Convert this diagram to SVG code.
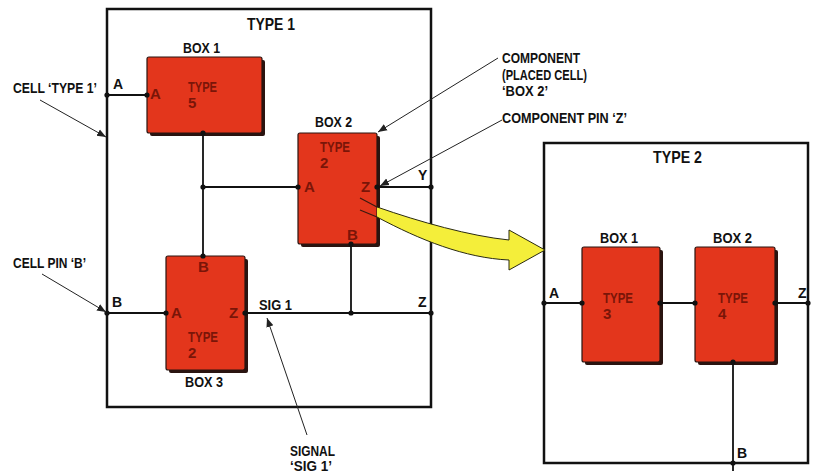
<svg xmlns="http://www.w3.org/2000/svg" width="816" height="475" viewBox="0 0 816 475">
<defs>
<style>
.frame{fill:none;stroke:#111;stroke-width:2.5}
.box{fill:#e3361c;stroke:#2a1410;stroke-width:1.2}
.shadow{fill:#2a1410}
.wire{stroke:#111;stroke-width:1.8;fill:none}
.lead{stroke:#222;stroke-width:1;fill:none;marker-end:url(#ah)}
.dot{fill:#111}
text{font-family:"Liberation Sans",Arial,sans-serif;font-weight:bold;fill:#111}
.lbl{font-size:14px}
.ttl{font-size:17px}
.in{font-size:15px;fill:#7a1508}
</style>
<marker id="ah" viewBox="0 0 10 10" refX="10" refY="5" markerWidth="9" markerHeight="9" orient="auto" markerUnits="userSpaceOnUse">
<path d="M0,1 L10,5 L0,9 z" fill="#222"/>
</marker>
</defs>
<rect width="816" height="475" fill="#fff"/>

<g id="cell-type1">
<rect class="frame" x="107" y="9" width="324" height="398"/>
<text class="ttl" x="247" y="30" textLength="48" lengthAdjust="spacingAndGlyphs">TYPE 1</text>
</g>

<g id="cell-type2">
<rect class="frame" x="544" y="143" width="264" height="320"/>
<text class="ttl" x="653" y="163" textLength="49" lengthAdjust="spacingAndGlyphs">TYPE 2</text>
</g>

<g id="t1-box1">
<rect class="shadow" x="150" y="60" width="115" height="76" rx="2"/>
<rect class="box" x="147" y="57" width="115" height="76" rx="2"/>
<text class="lbl" x="183" y="53" textLength="37" lengthAdjust="spacingAndGlyphs">BOX 1</text>
<text class="in" x="188" y="92" textLength="29" lengthAdjust="spacingAndGlyphs">TYPE</text>
<text class="in" x="188" y="108">5</text>
<text class="in" x="150" y="99" font-size="13">A</text>
</g>

<g id="t1-box2">
<rect class="shadow" x="301" y="136" width="79" height="111" rx="2"/>
<rect class="box" x="298" y="133" width="79" height="111" rx="2"/>
<text class="lbl" x="315" y="127" textLength="37" lengthAdjust="spacingAndGlyphs">BOX 2</text>
<text class="in" x="320" y="152" textLength="30" lengthAdjust="spacingAndGlyphs">TYPE</text>
<text class="in" x="320" y="168">2</text>
<text class="in" x="304" y="192">A</text>
<text class="in" x="361" y="192">Z</text>
<text class="in" x="347" y="240">B</text>
</g>

<g id="t1-box3">
<rect class="shadow" x="169" y="259" width="79" height="114" rx="2"/>
<rect class="box" x="166" y="256" width="79" height="114" rx="2"/>
<text class="lbl" x="185" y="387" textLength="38" lengthAdjust="spacingAndGlyphs">BOX 3</text>
<text class="in" x="198" y="272">B</text>
<text class="in" x="171" y="318">A</text>
<text class="in" x="229" y="318">Z</text>
<text class="in" x="188" y="342" textLength="30" lengthAdjust="spacingAndGlyphs">TYPE</text>
<text class="in" x="188" y="358">2</text>
</g>

<g id="t2-box1">
<rect class="shadow" x="585" y="250" width="78" height="115" rx="2"/>
<rect class="box" x="582" y="247" width="78" height="115" rx="2"/>
<text class="lbl" x="600" y="243" textLength="38" lengthAdjust="spacingAndGlyphs">BOX 1</text>
<text class="in" x="603" y="303" textLength="30" lengthAdjust="spacingAndGlyphs">TYPE</text>
<text class="in" x="603" y="319">3</text>
</g>

<g id="t2-box2">
<rect class="shadow" x="698" y="250" width="80" height="115" rx="2"/>
<rect class="box" x="695" y="247" width="80" height="115" rx="2"/>
<text class="lbl" x="713" y="243" textLength="39" lengthAdjust="spacingAndGlyphs">BOX 2</text>
<text class="in" x="718" y="303" textLength="30" lengthAdjust="spacingAndGlyphs">TYPE</text>
<text class="in" x="718" y="319">4</text>
</g>

<g id="connectors">
<path class="wire" d="M107,95H147 M203,133V256 M203,187H298 M377,187H431 M351,244V313 M107,313H166 M245,313H431"/>
<path class="wire" d="M544,303H582 M660,303H695 M775,303H808 M733,362V471"/>
<g class="dot">
<circle cx="107" cy="95" r="2.6"/><circle cx="147" cy="95" r="2.6"/>
<circle cx="203" cy="133" r="2.6"/><circle cx="203" cy="187" r="2.6"/><circle cx="203" cy="256" r="2.6"/>
<circle cx="298" cy="187" r="2.6"/><circle cx="377" cy="187" r="2.6"/><circle cx="431" cy="187" r="2.6"/>
<circle cx="351" cy="244" r="2.6"/><circle cx="351" cy="313" r="2.6"/>
<circle cx="107" cy="313" r="2.6"/><circle cx="166" cy="313" r="2.6"/><circle cx="245" cy="313" r="2.6"/><circle cx="431" cy="313" r="2.6"/>
<circle cx="544" cy="303" r="2.6"/><circle cx="582" cy="303" r="2.6"/><circle cx="660" cy="303" r="2.6"/><circle cx="695" cy="303" r="2.6"/><circle cx="775" cy="303" r="2.6"/><circle cx="808" cy="303" r="2.6"/>
<circle cx="733" cy="362" r="2.6"/><circle cx="733" cy="463" r="2.6"/>
</g>
<text class="lbl" x="113" y="89">A</text>
<text class="lbl" x="112" y="307">B</text>
<text class="lbl" x="418" y="180">Y</text>
<text class="lbl" x="418" y="307">Z</text>
<text class="lbl" x="259" y="310" textLength="33" lengthAdjust="spacingAndGlyphs">SIG 1</text>
<text class="lbl" x="549" y="298">A</text>
<text class="lbl" x="798" y="298">Z</text>
<text class="lbl" x="737" y="458">B</text>
</g>

<g id="annotations">
<path class="lead" d="M40,100 L106,137"/>
<path class="lead" d="M42,274 L106,312"/>
<path class="lead" d="M498,58 L378,132"/>
<path class="lead" d="M502,120 L380,186"/>
<path class="lead" d="M307,435 L267,318"/>
<text class="lbl" x="13" y="93" textLength="84" lengthAdjust="spacingAndGlyphs">CELL ‘TYPE 1’</text>
<text class="lbl" x="13" y="268" textLength="73" lengthAdjust="spacingAndGlyphs">CELL PIN ‘B’</text>
<text class="lbl" x="502" y="63" textLength="78" lengthAdjust="spacingAndGlyphs">COMPONENT</text>
<text class="lbl" x="502" y="80" textLength="85" lengthAdjust="spacingAndGlyphs">(PLACED CELL)</text>
<text class="lbl" x="502" y="96" textLength="46" lengthAdjust="spacingAndGlyphs">‘BOX 2’</text>
<text class="lbl" x="502" y="123" textLength="125" lengthAdjust="spacingAndGlyphs">COMPONENT PIN ‘Z’</text>
<text class="lbl" x="290" y="456" textLength="45" lengthAdjust="spacingAndGlyphs">SIGNAL</text>
<text class="lbl" x="290" y="471" textLength="42" lengthAdjust="spacingAndGlyphs">‘SIG 1’</text>
</g>

<g id="expand-arrow">
<path d="M377,207 C420,222 470,236 509,240 L509,230 L545,250 L509,270 L509,260 C465,258 420,240 377,217 Z" fill="#f4ee3a"/>
<path d="M377,207 C420,222 470,236 509,240 L509,230 L545,250 L509,270 L509,260 C465,258 420,240 377,217" fill="none" stroke="#2a2a10" stroke-width="1"/>
<path d="M360,198 L377,207 M360,210 L377,217" stroke="#3a1a10" stroke-width="1.2" fill="none"/>
</g>
</svg>
